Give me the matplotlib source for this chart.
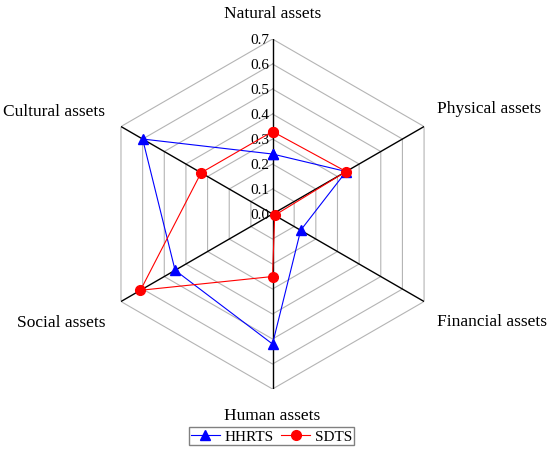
import numpy as np
import matplotlib
matplotlib.use('Agg')
import matplotlib.pyplot as plt

plt.rcParams['font.family'] = ['Liberation Serif', 'DejaVu Serif']

# axes of the radar, clockwise from the top
labels = ['Natural assets', 'Physical assets', 'Financial assets',
          'Human assets', 'Social assets', 'Cultural assets']
hhrts = [0.24, 0.34, 0.13, 0.52, 0.45, 0.60]
sdts = [0.33, 0.34, 0.01, 0.25, 0.61, 0.33]
rings = [0.1, 0.2, 0.3, 0.4, 0.5, 0.6, 0.7]
rmax = 0.7

n = len(labels)
theta = np.arange(n) * 2 * np.pi / n
theta_c = np.append(theta, theta[0])

fig = plt.figure(figsize=(5.5, 4.56), dpi=100)
ax = fig.add_axes([0.1773, 0.1447, 0.6364, 0.7675], projection='polar')
ax.set_theta_zero_location('N')
ax.set_theta_direction(-1)
ax.set_ylim(0, rmax)
ax.grid(False)
ax.spines['polar'].set_visible(False)
ax.set_xticks([])
ax.set_yticks([])

# hexagon grid
for r in rings:
    ax.plot(theta_c, [r] * (n + 1), color='#b4b4b4', lw=0.8, zorder=1)
# spokes
for t in theta:
    ax.plot([t, t], [0, rmax], color='black', lw=1.0, zorder=2)

# radial tick labels along the top axis
for r in [0.0] + rings:
    ax.annotate('%.1f' % r, xy=(0, r), xytext=(-2.5, 0), textcoords='offset points',
                ha='right', va='center', fontsize=11, zorder=3)

# axis labels
offs = [(0, 19, 'center'), (9.5, 13, 'left'), (9.5, -14, 'left'),
        (0, -19, 'center'), (-11.5, -14.5, 'right'), (-11.5, 11.5, 'right')]
for t, lab, (dx, dy, ha) in zip(theta, labels, offs):
    ax.annotate(lab, xy=(t, rmax), xytext=(dx, dy), textcoords='offset points',
                ha=ha, va='center', fontsize=12.5, annotation_clip=False)

ax.plot(theta_c, hhrts + hhrts[:1], color='blue', lw=0.8, marker='^',
        markersize=7.5, label='HHRTS', zorder=4, clip_on=False)
ax.plot(theta_c, sdts + sdts[:1], color='red', lw=0.8, marker='o',
        markersize=7, label='SDTS', zorder=5, clip_on=False)

leg = fig.legend(loc='center', bbox_to_anchor=(271.5 / 550, 1 - 437 / 456), ncol=2,
                 fancybox=False, edgecolor='#808080', fontsize=11, handlelength=1.9,
                 handletextpad=0.3, columnspacing=0.5, borderpad=0.15,
                 borderaxespad=0, framealpha=1)
leg.get_frame().set_linewidth(1.0)

fig.savefig('out.png', dpi=100)
